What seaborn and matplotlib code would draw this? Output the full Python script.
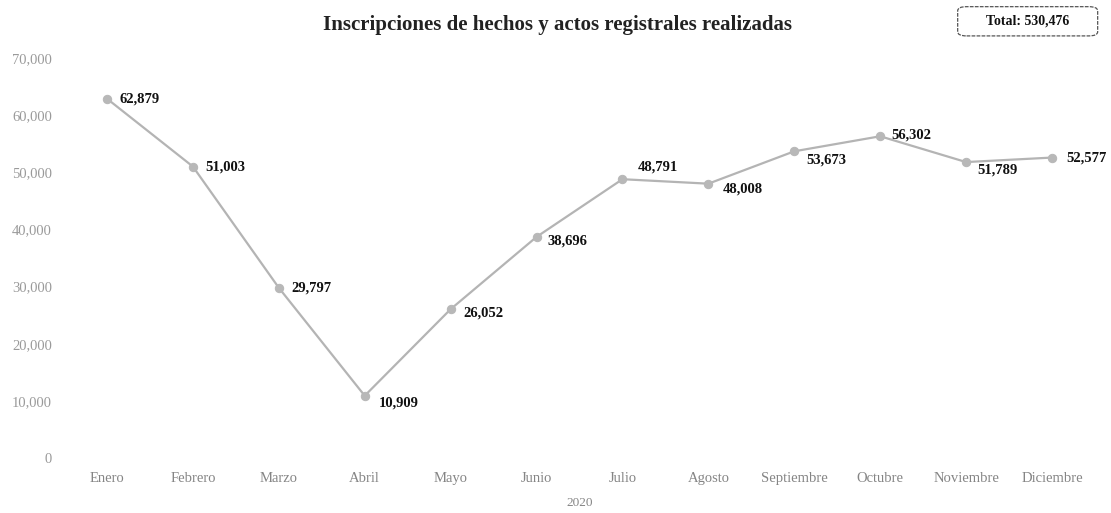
import pandas as pd
import matplotlib.pyplot as plt
import seaborn as sns
from matplotlib.patches import FancyBboxPatch

meses = ['Enero', 'Febrero', 'Marzo', 'Abril', 'Mayo', 'Junio', 'Julio',
         'Agosto', 'Septiembre', 'Octubre', 'Noviembre', 'Diciembre']
inscripciones = [62879, 51003, 29797, 10909, 26052, 38696, 48791,
                 48008, 53673, 56302, 51789, 52577]
y_ticks = [0, 10000, 20000, 30000, 40000, 50000, 60000, 70000]
total = 530476

df = pd.DataFrame({'mes': meses, 'valor': inscripciones})

sns.set_theme(style='white')
plt.rcParams['font.family'] = ['Liberation Serif', 'DejaVu Serif']

fig = plt.figure(figsize=(11.11, 5.13), dpi=100)
ax = fig.add_axes([0.0731, 0.107, 0.897, 0.78])

sns.lineplot(data=df, x='mes', y='valor', ax=ax, color='#b4b4b4',
             linewidth=1.6, marker='o', markersize=6,
             markerfacecolor='#b8b8b8', markeredgecolor='#b8b8b8', sort=False)

# desplazamiento de cada etiqueta (puntos)
offsets = [(9, 0), (9, 0), (9, 0), (10, -5), (9, -3), (8, -3),
           (11, 9), (10, -4), (9, -6), (8, 1), (8, -6), (10, 0)]
for i, (v, off) in enumerate(zip(inscripciones, offsets)):
    ax.annotate(f'{v:,}', (i, v), xytext=off, textcoords='offset points',
                ha='left', va='center', fontsize=10.5, fontweight='bold',
                color='#111111')

ax.set_xlim(-0.3, 11.3)
ax.set_ylim(0, 70000)
ax.set_yticks(y_ticks)
ax.set_yticklabels([f'{t:,}' for t in y_ticks])
ax.tick_params(axis='y', labelsize=10.5, labelcolor='#9a9a9a', pad=21, length=0)
ax.tick_params(axis='x', labelsize=10.5, labelcolor='#858585', pad=10, length=0)
ax.set_xlabel('2020', fontsize=9.5, color='#858585', labelpad=9)
ax.set_ylabel('')
ax.grid(False)
sns.despine(ax=ax, left=True, bottom=True)

fig.text(0.502, 0.952, 'Inscripciones de hechos y actos registrales realizadas',
         ha='center', va='center', fontsize=15, fontweight='bold', color='#222222')

box = FancyBboxPatch((0.862, 0.93), 0.126, 0.057, boxstyle='round,pad=0,rounding_size=0.008',
                     transform=fig.transFigure, facecolor='white',
                     edgecolor='#555555', linewidth=0.9, linestyle=(0, (3, 1)))
fig.patches.append(box)
fig.text(0.925, 0.9585, f'Total: {total:,}', ha='center', va='center',
         fontsize=10, fontweight='bold', color='#111111')

fig.savefig('out.png', dpi=100)
